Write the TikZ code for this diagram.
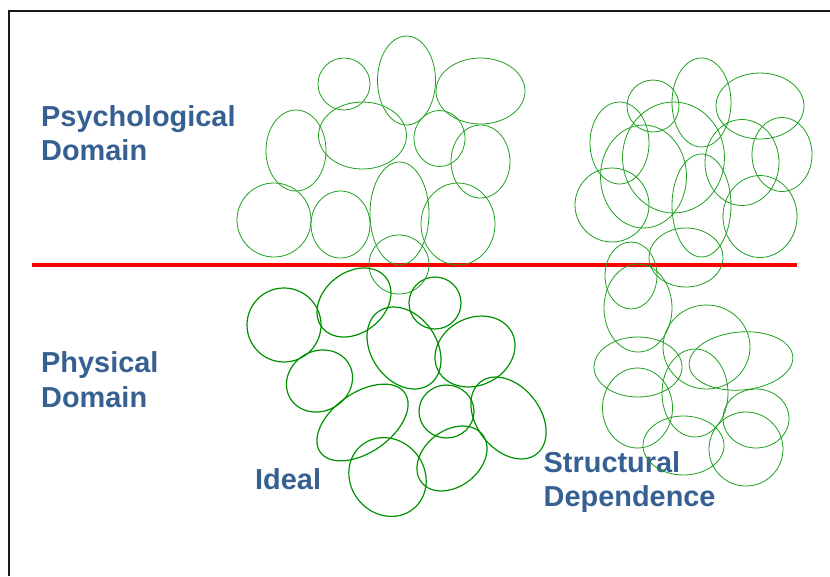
\documentclass[tikz,border=0pt]{standalone}
\usepackage{fontspec}
\setmainfont{Liberation Sans}
\usepackage{tikz}
\usetikzlibrary{positioning}

\definecolor{domainblue}{RGB}{54,96,146}
\definecolor{loopgreen}{RGB}{30,160,30}
\definecolor{idealgreen}{RGB}{0,145,0}

\begin{document}
\begin{tikzpicture}[x = 1pt, y = -1pt]
            \tikzstyle{loose} = [loopgreen, line width = 0.8pt]
            \tikzstyle{tight} = [idealgreen, line width = 1.2pt]
            \tikzstyle{domaintext} = [domainblue, inner sep = 0, anchor = base west, align = left,
                                      font = \bfseries\fontsize{28.9}{34.5}\selectfont]
            \useasboundingbox (0, 0) rectangle (830, 576);

            % frame and divider
            \draw [black!90, line width = 2pt] (9, 576) -- (9, 10.5) -- (830, 10.5);
            \coordinate (divleft) at (32, 265);
            \coordinate (divright) at (797, 265);
            \draw [red, line width = 3.5pt] (divleft) -- (divright);

            % base anchor sits on the last line
            \node[domaintext] (psych) at (41, 160.5) {Psychological\\Domain};
            \node[domaintext] (phys) at (41, 407) {Physical\\Domain};
            \node[domaintext] (ideal) at (255, 489.3) {Ideal};
            \node[domaintext] (struct) at (543.5, 506.5) {Structural\\Dependence};

            % ideal, psychological side
            \draw [loose] (344, 84) ellipse [x radius = 26, y radius = 26];
            \draw [loose] (406.5, 80.5) ellipse [x radius = 29, y radius = 44.5];
            \draw [loose] (480.5, 91) ellipse [x radius = 44.5, y radius = 33];
            \draw [loose] (296, 150.5) ellipse [x radius = 30, y radius = 40.5];
            \draw [loose] (362.5, 135.5) ellipse [x radius = 44, y radius = 33.5];
            \draw [loose] (439.5, 138.5) ellipse [x radius = 25.5, y radius = 28];
            \draw [loose] (480.5, 161.5) ellipse [x radius = 29.5, y radius = 36.5];
            \draw [loose] (274, 220) ellipse [x radius = 37, y radius = 37];
            \draw [loose] (340.5, 224.5) ellipse [x radius = 29.5, y radius = 33.5];
            \draw [loose] (399.5, 213.5) ellipse [x radius = 29.5, y radius = 51.5];
            \draw [loose] (458, 224) ellipse [x radius = 37, y radius = 41];
            \draw [loose] (399, 264.5) ellipse [x radius = 30, y radius = 29.5];

            % ideal, physical side
            \draw [tight] (284, 325) ellipse [x radius = 37, y radius = 37];
            \draw [tight] (354, 302.5) ellipse [x radius = 40.5, y radius = 30.3, rotate = 38];
            \draw [tight] (435, 303) ellipse [x radius = 26, y radius = 26];
            \draw [tight] (404, 348) ellipse [x radius = 44.5, y radius = 32.7, rotate = -55];
            \draw [tight] (475, 351.5) ellipse [x radius = 41.5, y radius = 33.7, rotate = 27];
            \draw [tight] (319.5, 381) ellipse [x radius = 34, y radius = 30, rotate = 30];
            \draw [tight] (362.5, 422.5) ellipse [x radius = 51.6, y radius = 29.8, rotate = 35];
            \draw [tight] (446.5, 411.5) ellipse [x radius = 27.5, y radius = 26.5];
            \draw [tight] (508.5, 418) ellipse [x radius = 45.7, y radius = 31.7, rotate = -52];
            \draw [tight] (387.5, 477) ellipse [x radius = 37, y radius = 41, rotate = 40];
            \draw [tight] (452, 458.5) ellipse [x radius = 38.7, y radius = 28, rotate = 38];

            % structural dependence, psychological side
            \draw [loose] (653, 106) ellipse [x radius = 26, y radius = 26];
            \draw [loose] (701.5, 102.5) ellipse [x radius = 29.5, y radius = 44.5];
            \draw [loose] (760, 106) ellipse [x radius = 44, y radius = 33];
            \draw [loose] (619.5, 143) ellipse [x radius = 29.5, y radius = 41];
            \draw [loose] (673.5, 157.5) ellipse [x radius = 51, y radius = 55.5];
            \draw [loose] (643.5, 176.5) ellipse [x radius = 43, y radius = 51.5];
            \draw [loose] (742, 162.5) ellipse [x radius = 37, y radius = 43];
            \draw [loose] (782, 154.5) ellipse [x radius = 30, y radius = 37];
            \draw [loose] (612, 205) ellipse [x radius = 37, y radius = 37];
            \draw [loose] (701.5, 205.5) ellipse [x radius = 29.5, y radius = 51.5];
            \draw [loose] (760, 216.5) ellipse [x radius = 37, y radius = 41];
            \draw [loose] (686, 257.5) ellipse [x radius = 37, y radius = 29.5];
            \draw [loose] (631, 275.5) ellipse [x radius = 26, y radius = 33.5];

            % structural dependence, physical side
            \draw [loose] (638, 308) ellipse [x radius = 34, y radius = 44];
            \draw [loose] (706.5, 347) ellipse [x radius = 43.5, y radius = 42];
            \draw [loose] (741, 361) ellipse [x radius = 52, y radius = 29, rotate = 5];
            \draw [loose] (638, 367) ellipse [x radius = 44, y radius = 30];
            \draw [loose] (695, 393) ellipse [x radius = 33, y radius = 44];
            \draw [loose] (637.5, 408) ellipse [x radius = 35, y radius = 40];
            \draw [loose] (756, 418.5) ellipse [x radius = 33, y radius = 29.5];
            \draw [loose] (683.5, 445.5) ellipse [x radius = 40.5, y radius = 29.5];
            \draw [loose] (746, 449) ellipse [x radius = 37, y radius = 37];

        \end{tikzpicture}
\end{document}
